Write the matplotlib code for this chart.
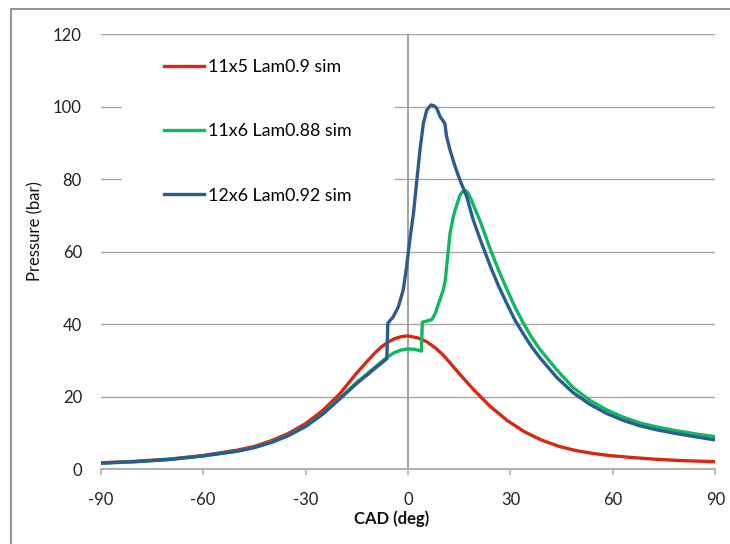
import matplotlib
matplotlib.use("Agg")
import matplotlib.pyplot as plt
from matplotlib.patches import Rectangle

plt.rcParams["font.family"] = ["Lato", "DejaVu Sans"]

# ---- data: cylinder pressure (bar) vs crank angle (deg) ----
red_label = "11x5 Lam0.9 sim"
red_cad = [-90, -80, -70, -60, -50, -45, -40, -35, -30, -25, -20, -15, -10, -8, -6, -4, -2, 0,
           3, 5.5, 8, 10, 12, 15, 19, 24, 29, 34, 39, 44, 49, 54, 59, 65, 72, 80, 90]
red_p = [1.8, 2.2, 2.8, 3.8, 5.3, 6.3, 7.9, 9.9, 12.6, 16.2, 20.8, 26.6, 31.8, 33.6, 35.0, 36.0,
         36.6, 36.8, 36.2, 35.2, 33.5, 31.8, 29.7, 26.4, 22.2, 17.4, 13.5, 10.4, 8.1, 6.4, 5.2,
         4.4, 3.8, 3.3, 2.8, 2.4, 2.1]

green_label = "11x6 Lam0.88 sim"
green_cad = [-90, -80, -70, -60, -50, -45, -40, -35, -30, -25, -20, -15, -12, -10, -8, -6, -4,
             -2, 0, 2, 3.9, 4.2, 5.5, 7.0, 8.0, 8.9, 10.3, 10.9, 11.3, 12.3, 13.3, 13.8, 15.2,
             16.0, 16.7, 17.5, 18.7, 19.1, 21.1, 24.0, 26.5, 28.9, 31.3, 33.8, 36.2, 38.7, 43.6,
             48.4, 53.3, 58.2, 63, 67.9, 72.8, 77.7, 84, 90]
green_p = [1.7, 2.1, 2.7, 3.7, 5.0, 6.0, 7.5, 9.4, 11.9, 15.3, 19.6, 24.0, 26.3, 27.9, 29.5,
           31.0, 32.2, 32.9, 33.2, 33.1, 32.6, 40.6, 40.9, 41.3, 43.0, 45.6, 49.4, 52.0, 55.8,
           65.0, 69.8, 71.5, 75.6, 76.6, 76.9, 76.4, 74.0, 73.0, 68.5, 61.0, 55.0, 49.8, 44.8,
           40.3, 36.4, 33.0, 27.4, 22.5, 19.0, 16.4, 14.4, 12.8, 11.7, 10.8, 9.8, 9.0]

blue_label = "12x6 Lam0.92 sim"
blue_cad = [-90, -80, -70, -60, -50, -45, -40, -35, -30, -25, -20, -15, -12, -10, -8, -6.2,
            -5.9, -4.3, -2.8, -1.4, -0.4, 0.4, 1.6, 2.5, 3.5, 4.5, 5.5, 6.7, 7.6, 8.4, 9.4,
            10.8, 11.3, 12.3, 13.8, 15.2, 17.2, 19.1, 21.1, 24.0, 26.5, 28.9, 31.3, 33.8, 36.2,
            38.7, 43.6, 48.4, 53.3, 58.2, 63, 67.9, 72.8, 77.7, 84, 90]
blue_p = [1.7, 2.1, 2.7, 3.7, 5.0, 6.0, 7.4, 9.3, 11.8, 15.2, 19.4, 23.7, 26.0, 27.6, 29.1, 30.5,
          40.3, 42.1, 44.9, 49.5, 55.9, 62.3, 70.6, 78.9, 88.1, 95.4, 99.1, 100.5, 100.3, 99.6,
          97.3, 95.4, 91.8, 88.1, 83.5, 79.8, 75.2, 68.8, 63.5, 56.3, 50.6, 45.8, 41.2, 37.3,
          33.8, 30.7, 25.3, 21.1, 17.9, 15.4, 13.5, 12.0, 10.9, 10.0, 9.0, 8.1]

x_ticks = [-90, -60, -30, 0, 30, 60, 90]
y_ticks = [0, 20, 40, 60, 80, 100, 120]

# ---- figure ----
W, H = 730, 544
fig = plt.figure(figsize=(W / 100, H / 100), dpi=100)
fig.patch.set_facecolor("white")

ax = fig.add_axes([100.7 / W, 1 - 469.3 / H, (715.3 - 100.7) / W, (469.3 - 34.3) / H])
ax.set_xlim(-90, 90)
ax.set_ylim(0, 120)
ax.set_xticks(x_ticks)
ax.set_yticks(y_ticks)
ax.set_xticklabels([str(v) for v in x_ticks])
ax.set_yticklabels([str(v) for v in y_ticks])

for s in ("top", "right", "left"):
    ax.spines[s].set_visible(False)
ax.spines["bottom"].set_color("#b4b4b4")
ax.spines["bottom"].set_linewidth(1.6)

for yv in y_ticks[1:]:
    ax.axhline(yv, color="#a5a5a5", lw=1.0, zorder=1)
ax.axvline(0, color="#9a9a9a", lw=1.3, zorder=1)

ax.tick_params(axis="x", direction="out", length=4, width=1.2, color="#b4b4b4",
               pad=12, labelsize=12, labelcolor="#222222")
ax.tick_params(axis="y", length=0, pad=13.5, labelsize=12, labelcolor="#222222")

# white panel behind the legend
ax.add_patch(Rectangle((-83.8, 70.0), 80.0, 48.4, facecolor="white",
                       edgecolor="none", zorder=2))

l1, = ax.plot(red_cad, red_p, color="#d42a14", lw=2.4, zorder=3, label=red_label)
l2, = ax.plot(green_cad, green_p, color="#10b860", lw=2.4, zorder=4, label=green_label)
l3, = ax.plot(blue_cad, blue_p, color="#2d5b8e", lw=2.4, zorder=5, label=blue_label)

ax.legend(handles=[l1, l2, l3], loc="upper left", bbox_to_anchor=(164 / W, 1 - 59 / H),
          bbox_transform=fig.transFigure, frameon=False, borderpad=0, borderaxespad=0,
          handlelength=2.25, handletextpad=0.2, labelspacing=2.72, fontsize=12.8)

fig.text(392 / W, 1 - 519 / H, "CAD (deg)", ha="center", va="center",
         fontsize=12, fontweight="bold", color="#111111")
fig.text(35 / W, 1 - 231 / H, "Pressure (bar)", ha="center", va="center",
         rotation=90, fontsize=12, color="#111111")

# chart-area border
fig.patches.append(Rectangle((11 / W, -0.1), 2.0, 1 - 9.3 / H + 0.1, transform=fig.transFigure,
                             fill=False, edgecolor="#8a8a8a", lw=1.3))

fig.savefig("out.png", dpi=100)
